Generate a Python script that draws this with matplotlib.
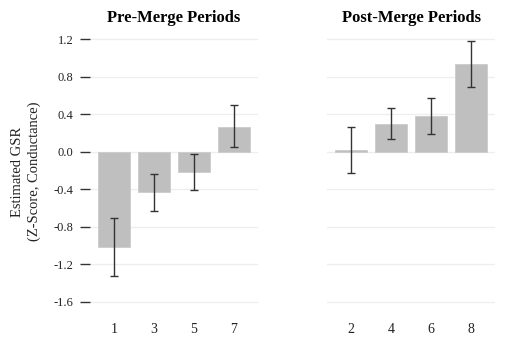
import matplotlib
matplotlib.use("Agg")
import matplotlib.pyplot as plt
import numpy as np

plt.rcParams['font.family'] = ['Liberation Serif', 'DejaVu Serif']

# Estimated GSR per period with confidence bounds
pre_periods = ["1", "3", "5", "7"]
pre_means = [-1.01, -0.43, -0.21, 0.27]
pre_lower = [-1.32, -0.63, -0.41, 0.05]
pre_upper = [-0.70, -0.23, -0.02, 0.50]

post_periods = ["2", "4", "6", "8"]
post_means = [0.02, 0.30, 0.38, 0.935]
post_lower = [-0.22, 0.14, 0.19, 0.69]
post_upper = [0.27, 0.47, 0.58, 1.18]

y_ticks = [-1.6, -1.2, -0.8, -0.4, 0.0, 0.4, 0.8, 1.2]
y_tick_labels = ["-1.6", "-1.2", "-0.8", "-0.4", "0.0", "0.4", "0.8", "1.2"]

W, H = 528, 342
fig = plt.figure(figsize=(W / 100, H / 100), dpi=100)

ylim = (-1.72, 1.30)
top_px = 30.1
bot_px = 313.25
ax_b = 1 - bot_px / H
ax_h = (bot_px - top_px) / H

ax1 = fig.add_axes([90 / W, ax_b, 168 / W, ax_h])
ax2 = fig.add_axes([327 / W, ax_b, 168 / W, ax_h])

bar_color = "#bfbfbf"
err_color = "#333333"


def draw_panel(ax, labels, means, lower, upper, title, show_y):
    x = np.arange(len(labels))
    means = np.array(means)
    yerr = np.vstack([means - np.array(lower), np.array(upper) - means])
    for yt in y_ticks:
        ax.axhline(yt, color="#eeeeee", lw=0.9, zorder=0)
    ax.bar(x, means, width=0.82, color=bar_color, edgecolor="#cccccc",
           linewidth=0.6, zorder=2)
    ax.errorbar(x, means, yerr=yerr, fmt="none", ecolor=err_color,
                elinewidth=1.0, capsize=3, capthick=1.0, zorder=3)
    ax.set_xlim(-0.6, len(labels) - 0.4)
    ax.set_ylim(*ylim)
    ax.set_xticks(x)
    ax.set_xticklabels(labels, fontsize=10)
    ax.tick_params(axis="x", length=0, pad=7, colors="#222222")
    ax.set_yticks(y_ticks)
    if show_y:
        ax.set_yticklabels(y_tick_labels, fontsize=9)
        ax.tick_params(axis="y", length=7, width=1.0, pad=5,
                       color="#333333", labelcolor="#222222")
    else:
        ax.set_yticklabels([])
        ax.tick_params(axis="y", length=0)
    for s in ax.spines.values():
        s.set_visible(False)
    ax.set_title(title, fontsize=12, fontweight="bold", pad=6)


draw_panel(ax1, pre_periods, pre_means, pre_lower, pre_upper,
           "Pre-Merge Periods", True)
draw_panel(ax2, post_periods, post_means, post_lower, post_upper,
           "Post-Merge Periods", False)

ax1.set_ylabel("Estimated GSR\n(Z-Score, Conductance)", fontsize=10.5,
               color="#222222", labelpad=9, linespacing=1.35)

fig.savefig("out.png", dpi=100)
